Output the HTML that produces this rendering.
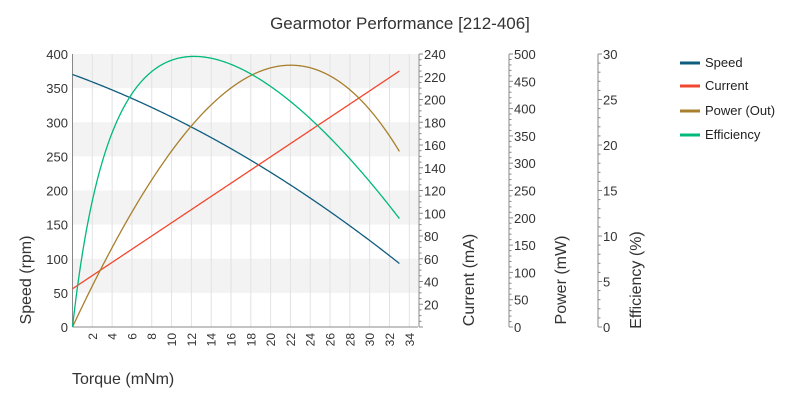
<!DOCTYPE html>
<html><head><meta charset="utf-8"><style>
html,body{margin:0;padding:0;background:#fff;width:800px;height:400px;overflow:hidden}
svg{font-family:"Liberation Sans",Arial,sans-serif;display:block}
</style></head><body>
<svg id="s" width="800" height="400" xmlns="http://www.w3.org/2000/svg">
<text x="400" y="29" font-size="17" fill="#333" text-anchor="middle">Gearmotor Performance [212-406]</text>
<g id="bands"></g>
<g id="grid"></g>
<g id="axes"></g>
<g id="series" fill="none" stroke-width="1.3"></g>
<text transform="translate(31,280) rotate(-90)" font-size="16" fill="#333" text-anchor="middle">Speed (rpm)</text>
<text transform="translate(474,280) rotate(-90)" font-size="16" fill="#333" text-anchor="middle">Current (mA)</text>
<text transform="translate(566,280) rotate(-90)" font-size="16" fill="#333" text-anchor="middle">Power (mW)</text>
<text transform="translate(641,280) rotate(-90)" font-size="16" fill="#333" text-anchor="middle">Efficiency (%)</text>
<text x="72" y="384" font-size="16" fill="#333">Torque (mNm)</text>
<g font-size="13" fill="#222">
<line x1="680" y1="63" x2="700" y2="63" stroke="#0f5d7e" stroke-width="3"/><text x="705" y="67">Speed</text>
<line x1="680" y1="86" x2="700" y2="86" stroke="#f2472f" stroke-width="3"/><text x="705" y="90">Current</text>
<line x1="680" y1="111" x2="700" y2="111" stroke="#a87f2c" stroke-width="3"/><text x="705" y="115">Power (Out)</text>
<line x1="680" y1="135" x2="700" y2="135" stroke="#00b97b" stroke-width="3"/><text x="705" y="139">Efficiency</text>
</g>
</svg>
<script>
var NS="http://www.w3.org/2000/svg";
function el(p,t,a,txt){var e=document.createElementNS(NS,t);for(var k in a)e.setAttribute(k,a[k]);if(txt!==undefined)e.textContent=txt;document.getElementById(p).appendChild(e);return e;}
var X0=72.5,XS=9.906,Y0=327,YT=54,XR=418;
function px(t){return X0+t*XS}
function py(v){return Y0-v*(Y0-YT)/400}
// bands
[[350,400],[250,300],[150,200],[50,100]].forEach(function(b){el("bands","rect",{x:X0,y:py(b[1]),width:XR-X0,height:py(b[0])-py(b[1]),fill:"#f3f3f3"});});
for(var t=2;t<=34;t+=2){el("grid","line",{x1:px(t),x2:px(t),y1:YT,y2:Y0,stroke:"#e2e2e2"});
 el("axes","text",{transform:"translate("+(px(t)+4.5)+",333) rotate(-90)","font-size":"12",fill:"#333","text-anchor":"end"},t);}
// left axis
el("axes","line",{x1:X0,x2:X0,y1:YT,y2:Y0,stroke:"#888"});
el("axes","line",{x1:X0,x2:XR,y1:Y0,y2:Y0,stroke:"#888"});
for(var v=0;v<=400;v+=50){el("axes","text",{x:68,y:py(v)+5,"font-size":"13",fill:"#333","text-anchor":"end"},v);}
// right axes
function raxis(x,max,major,minor,start){
 el("axes","line",{x1:x,x2:x,y1:YT,y2:Y0,stroke:"#888"});
 for(var v=0;v<=max+1e-9;v+=minor){var y=Y0-v*(Y0-YT)/max;var isM=Math.abs(v/major-Math.round(v/major))<1e-6;
  el("axes","line",{x1:x,x2:x+(isM?4:2.5),y1:y,y2:y,stroke:"#888"});
  if(isM&&v>=start)el("axes","text",{x:x+5,y:y+5,"font-size":"13",fill:"#333"},Math.round(v));}
}
raxis(419,240,20,5,20);
raxis(509,500,50,10,0);
raxis(598,30,5,1,0);
// series
var sp=[],cu=[],pw=[],ef=[];
for(var i=0;i<=330;i++){var T=i/10;
 var s=370-5.29*T-0.094*T*T;
 var I=33.6+(225-33.6)*T/33;
 var P=T*s*2*Math.PI/60;
 var E=P/(12*I)*100;
 sp.push(px(T)+","+py(s));cu.push(px(T)+","+py(I*400/240));pw.push(px(T)+","+py(P*400/500));ef.push(px(T)+","+py(E*400/30));}
el("series","polyline",{points:sp.join(" "),stroke:"#0f5d7e"});
el("series","polyline",{points:cu.join(" "),stroke:"#f2472f"});
el("series","polyline",{points:pw.join(" "),stroke:"#a87f2c"});
el("series","polyline",{points:ef.join(" "),stroke:"#00b97b"});
</script>
</body></html>
